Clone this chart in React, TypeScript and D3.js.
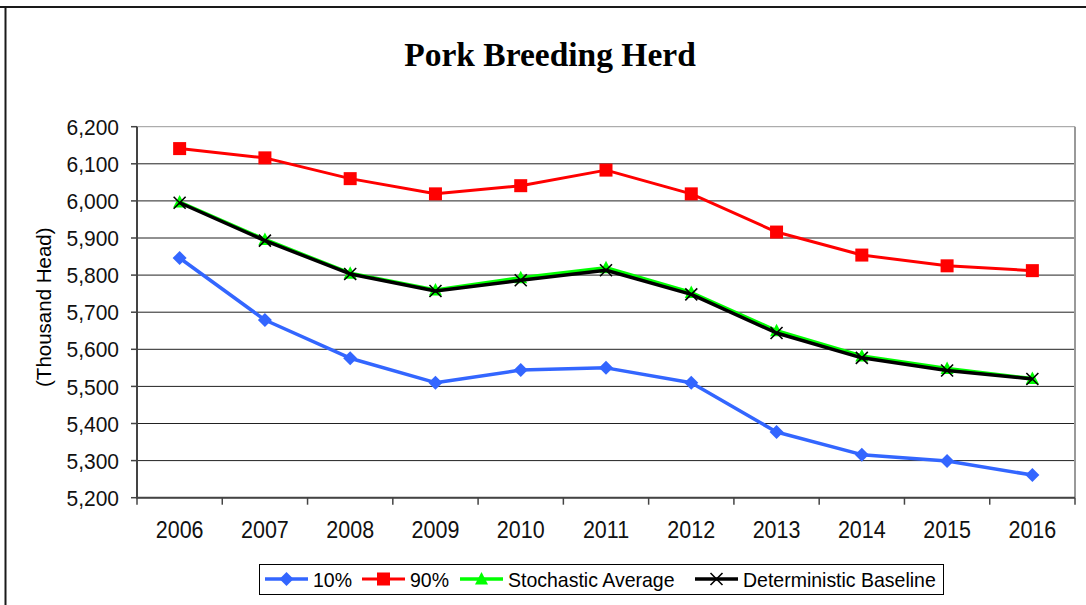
import React from "react";
import * as d3 from "d3";

const years = ["2006","2007","2008","2009","2010","2011","2012","2013","2014","2015","2016"];
const p10 = [5846, 5679, 5576, 5510, 5544, 5550, 5510, 5377, 5316, 5299, 5261];
const p90 = [6141, 6116, 6060, 6019, 6041, 6083, 6019, 5916, 5854, 5825, 5812];
const stochAvg = [5997, 5896, 5805, 5760, 5793, 5820, 5753, 5650, 5582, 5548, 5521];
const detBase = [5995, 5893, 5803, 5757, 5786, 5813, 5748, 5644, 5577, 5543, 5520];
const yTicks = [5200, 5300, 5400, 5500, 5600, 5700, 5800, 5900, 6000, 6100, 6200];

const W = 1086, H = 605;
const plot = { left: 137, right: 1075, top: 126.7, bottom: 497.7 };

type Marker = "diamond" | "square" | "triangle" | "x";
const series: { name: string; values: number[]; color: string; width: number; marker: Marker }[] = [
  { name: "10%", values: p10, color: "#3366FF", width: 3.5, marker: "diamond" },
  { name: "90%", values: p90, color: "#FF0000", width: 3, marker: "square" },
  { name: "Stochastic Average", values: stochAvg, color: "#00FF00", width: 3.5, marker: "triangle" },
  { name: "Deterministic Baseline", values: detBase, color: "#000000", width: 3.5, marker: "x" },
];

function MarkerShape({ type, x, y, color }: { type: Marker; x: number; y: number; color: string }) {
  if (type === "square") return <rect x={x - 6.5} y={y - 6.5} width={13} height={13} fill={color} />;
  if (type === "diamond") return <path d={`M${x},${y - 7}L${x + 7},${y}L${x},${y + 7}L${x - 7},${y}Z`} fill={color} />;
  if (type === "triangle") return <path d={`M${x},${y - 7}L${x + 6.5},${y + 5.5}L${x - 6.5},${y + 5.5}Z`} fill={color} />;
  return (
    <path d={`M${x - 6},${y - 6}L${x + 6},${y + 6}M${x + 6},${y - 6}L${x - 6},${y + 6}`} stroke={color} strokeWidth={1.6} fill="none" />
  );
}

const legendItems = [
  { idx: 0, lineX: 265, textX: 313 },
  { idx: 1, lineX: 362, textX: 410 },
  { idx: 2, lineX: 460, textX: 508 },
  { idx: 3, lineX: 695, textX: 743 },
];

const sans = "'Liberation Sans', Arial, sans-serif";

export default function App() {
  const x = d3.scaleBand<string>().domain(years).range([plot.left, plot.right]);
  const y = d3.scaleLinear().domain([5200, 6200]).range([plot.bottom, plot.top]);
  const cx = (yr: string) => (x(yr) as number) + x.bandwidth() / 2;
  const line = d3
    .line<number>()
    .x((_, i) => cx(years[i]))
    .y((v) => y(v));
  const fmt = d3.format(",");
  const boundaries = years.map((yr) => x(yr) as number).concat([plot.right]);

  return (
    <div style={{ position: "fixed", left: 0, top: 0 }}>
      <svg width={W} height={H} style={{ display: "block", background: "#fff" }}>
        <line x1={0} y1={7} x2={W} y2={7} stroke="#1a1a1a" strokeWidth={2} />
        <line x1={5.5} y1={7} x2={5.5} y2={H} stroke="#1a1a1a" strokeWidth={2} />

        <text x={550} y={66} textAnchor="middle" fontFamily="'Liberation Serif', 'Times New Roman', serif" fontWeight="bold" fontSize={33.5}>
          Pork Breeding Herd
        </text>

        {yTicks.map((t) => (
          <line key={t} x1={plot.left} x2={plot.right} y1={y(t)} y2={y(t)} stroke={t === 6200 ? "#999" : "#222"} strokeWidth={1} />
        ))}
        <line x1={plot.right} x2={plot.right} y1={plot.top} y2={plot.bottom} stroke="#999" strokeWidth={2} />

        <line x1={plot.left} x2={plot.left} y1={plot.top} y2={plot.bottom + 1} stroke="#444" strokeWidth={2} />
        {yTicks.map((t) => (
          <g key={t}>
            <line x1={plot.left - 6} x2={plot.left} y1={y(t)} y2={y(t)} stroke="#444" strokeWidth={1.5} />
            <text
              transform={`translate(119,${y(t)}) scale(1,1.08)`}
              dy="0.36em"
              textAnchor="end"
              fontFamily={sans}
              fontSize={21}
              fill="#111"
            >
              {fmt(t)}
            </text>
          </g>
        ))}
        <text
          transform={`translate(51,${(plot.top + plot.bottom) / 2 - 5}) rotate(-90)`}
          textAnchor="middle"
          fontFamily={sans}
          fontSize={20.5}
        >
          (Thousand Head)
        </text>

        <line x1={plot.left} x2={plot.right} y1={plot.bottom} y2={plot.bottom} stroke="#444" strokeWidth={2} />
        {boundaries.map((b, i) => (
          <line key={i} x1={b} x2={b} y1={plot.bottom} y2={plot.bottom + 7} stroke="#444" strokeWidth={1.5} />
        ))}
        {years.map((yr) => (
          <text
            key={yr}
            transform={`translate(${cx(yr)},538) scale(1,1.08)`}
            textAnchor="middle"
            fontFamily={sans}
            fontSize={21.5}
            fill="#111"
          >
            {yr}
          </text>
        ))}

        {series.map((s) => (
          <g key={s.name}>
            <path d={line(s.values) || ""} fill="none" stroke={s.color} strokeWidth={s.width} strokeLinejoin="round" />
            {s.values.map((v, i) => (
              <MarkerShape key={i} type={s.marker} x={cx(years[i])} y={y(v)} color={s.color} />
            ))}
          </g>
        ))}

        <rect x={259.5} y={564.5} width={684} height={30} fill="#fff" stroke="#000" strokeWidth={1} />
        {legendItems.map((li) => {
          const s = series[li.idx];
          return (
            <g key={s.name}>
              <line x1={li.lineX} x2={li.lineX + 43} y1={579} y2={579} stroke={s.color} strokeWidth={s.width} />
              <MarkerShape type={s.marker} x={li.lineX + 21.5} y={579} color={s.color} />
              <text
                transform={`translate(${li.textX},587) scale(1,1.08)`}
                fontFamily={sans}
                fontSize={19.5}
              >
                {s.name}
              </text>
            </g>
          );
        })}
      </svg>
    </div>
  );
}
